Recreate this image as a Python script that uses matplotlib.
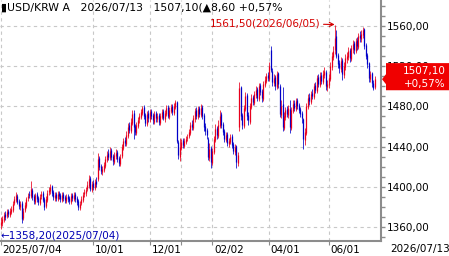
import matplotlib.pyplot as plt
import matplotlib.transforms as mtransforms
from matplotlib.patches import Polygon
from matplotlib.ticker import MultipleLocator

# daily USD/KRW candles, 2025/07/04 .. 2026/07/13
opens = [1362, 1364, 1367, 1373, 1371, 1376, 1372, 1375, 1377, 1384,
         1387, 1391, 1386, 1380, 1384, 1369, 1377, 1381, 1389, 1393,
         1391, 1397, 1391, 1385, 1393, 1389, 1384, 1391, 1394, 1388,
         1381, 1387, 1395, 1396, 1401, 1395, 1389, 1393, 1388, 1394,
         1392, 1387, 1393, 1390, 1386, 1391, 1389, 1385, 1392, 1388,
         1393, 1389, 1386, 1379, 1384, 1387, 1393, 1394, 1398, 1401,
         1409, 1397, 1404, 1399, 1406, 1408, 1429, 1421, 1415, 1417,
         1421, 1427, 1434, 1429, 1437, 1431, 1425, 1431, 1435, 1429,
         1423, 1431, 1439, 1447, 1443, 1451, 1462, 1456, 1464, 1473,
         1461, 1454, 1461, 1467, 1469, 1473, 1479, 1471, 1463, 1473,
         1467, 1475, 1471, 1465, 1473, 1467, 1471, 1464, 1469, 1475,
         1467, 1472, 1479, 1469, 1475, 1480, 1473, 1479, 1484, 1445,
         1430, 1439, 1447, 1441, 1445, 1449, 1451, 1454, 1463, 1459,
         1467, 1476, 1469, 1478, 1471, 1479, 1471, 1461, 1457, 1448,
         1429, 1439, 1424, 1435, 1447, 1459, 1451, 1461, 1472, 1463,
         1456, 1447, 1453, 1443, 1445, 1451, 1443, 1435, 1441, 1424,
         1460, 1499, 1471, 1461, 1477, 1491, 1471, 1465, 1479, 1489,
         1483, 1491, 1497, 1487, 1501, 1495, 1487, 1501, 1505, 1511,
         1507, 1536, 1515, 1503, 1509, 1499, 1513, 1500, 1471, 1482,
         1459, 1469, 1477, 1471, 1477, 1459, 1475, 1483, 1477, 1486,
         1481, 1477, 1473, 1467, 1447, 1454, 1479, 1489, 1484, 1493,
         1489, 1501, 1495, 1509, 1501, 1511, 1504, 1511, 1514, 1499,
         1501, 1507, 1519, 1529, 1536, 1550, 1531, 1523, 1517, 1526,
         1511, 1519, 1527, 1529, 1536, 1527, 1537, 1543, 1535, 1546,
         1539, 1551, 1547, 1551, 1557, 1541, 1531, 1523, 1507, 1513,
         1503, 1499]
closes = [1365, 1368, 1372, 1370, 1375, 1373, 1376, 1378, 1383, 1388,
          1392, 1385, 1381, 1383, 1368, 1376, 1382, 1388, 1391, 1392,
          1398, 1390, 1386, 1392, 1388, 1385, 1390, 1393, 1387, 1380,
          1388, 1394, 1397, 1400, 1394, 1390, 1392, 1389, 1393, 1391,
          1388, 1392, 1389, 1387, 1390, 1388, 1386, 1391, 1389, 1392,
          1388, 1385, 1380, 1383, 1388, 1392, 1395, 1397, 1402, 1408,
          1398, 1403, 1400, 1405, 1403, 1428, 1420, 1416, 1418, 1422,
          1428, 1432, 1430, 1436, 1430, 1426, 1432, 1434, 1428, 1424,
          1430, 1440, 1446, 1444, 1452, 1460, 1457, 1465, 1472, 1460,
          1455, 1462, 1466, 1470, 1474, 1478, 1470, 1464, 1472, 1468,
          1474, 1470, 1466, 1472, 1468, 1470, 1465, 1470, 1474, 1468,
          1473, 1478, 1470, 1476, 1479, 1474, 1480, 1484, 1446, 1432,
          1440, 1445, 1442, 1446, 1448, 1450, 1455, 1462, 1460, 1468,
          1475, 1470, 1477, 1472, 1478, 1470, 1460, 1456, 1452, 1430,
          1438, 1425, 1436, 1448, 1458, 1452, 1462, 1470, 1462, 1455,
          1448, 1452, 1444, 1446, 1450, 1442, 1436, 1440, 1425, 1432,
          1498, 1470, 1462, 1478, 1490, 1470, 1466, 1480, 1488, 1484,
          1492, 1496, 1488, 1500, 1494, 1488, 1502, 1506, 1510, 1508,
          1520, 1516, 1504, 1508, 1500, 1512, 1502, 1472, 1480, 1460,
          1470, 1476, 1472, 1478, 1460, 1476, 1482, 1478, 1485, 1480,
          1476, 1472, 1468, 1448, 1455, 1480, 1488, 1485, 1492, 1490,
          1500, 1496, 1508, 1502, 1510, 1505, 1512, 1515, 1500, 1502,
          1508, 1520, 1530, 1535, 1548, 1530, 1522, 1518, 1525, 1512,
          1520, 1528, 1530, 1535, 1528, 1538, 1542, 1536, 1545, 1540,
          1550, 1548, 1552, 1556, 1540, 1530, 1522, 1508, 1512, 1503,
          1498.5, 1507.1]
highs = [1370, 1371, 1375, 1376, 1378, 1378, 1379, 1381, 1386, 1391,
         1395, 1393, 1388, 1386, 1386, 1379, 1385, 1390, 1394, 1396,
         1406, 1399, 1393, 1394, 1395, 1391, 1393, 1396, 1396, 1390,
         1391, 1397, 1400, 1403, 1402, 1397, 1395, 1395, 1396, 1396,
         1394, 1395, 1395, 1392, 1393, 1393, 1391, 1394, 1394, 1395,
         1395, 1391, 1388, 1386, 1391, 1395, 1398, 1400, 1406, 1412,
         1411, 1406, 1407, 1408, 1410, 1434, 1431, 1423, 1421, 1425,
         1431, 1436, 1438, 1440, 1439, 1433, 1435, 1438, 1437, 1431,
         1433, 1443, 1449, 1450, 1456, 1464, 1465, 1468, 1476, 1476,
         1463, 1465, 1469, 1473, 1477, 1480, 1481, 1473, 1475, 1476,
         1477, 1477, 1473, 1475, 1475, 1473, 1473, 1473, 1477, 1477,
         1476, 1481, 1481, 1479, 1482, 1482, 1483, 1486, 1485, 1447,
         1449, 1448, 1449, 1449, 1451, 1453, 1458, 1465, 1466, 1471,
         1478, 1479, 1480, 1480, 1482, 1481, 1473, 1464, 1459, 1450,
         1444, 1441, 1439, 1451, 1463, 1461, 1466, 1476, 1474, 1465,
         1458, 1455, 1455, 1449, 1453, 1453, 1445, 1443, 1442, 1435,
         1504, 1500, 1473, 1481, 1494, 1493, 1474, 1483, 1492, 1491,
         1495, 1500, 1499, 1503, 1503, 1497, 1505, 1510, 1513, 1514,
         1524, 1540, 1518, 1512, 1511, 1515, 1514, 1502, 1486, 1499,
         1474, 1479, 1480, 1481, 1486, 1479, 1486, 1486, 1488, 1488,
         1483, 1479, 1475, 1468, 1459, 1483, 1492, 1493, 1495, 1497,
         1503, 1504, 1511, 1512, 1514, 1514, 1516, 1519, 1516, 1506,
         1512, 1524, 1534, 1540, 1561.5, 1556, 1533, 1526, 1529, 1528,
         1524, 1532, 1534, 1539, 1538, 1541, 1546, 1545, 1548, 1549,
         1553, 1555, 1556, 1559, 1558, 1543, 1533, 1524, 1515, 1514,
         1506, 1510]
lows = [1358.2, 1361, 1365, 1367, 1369, 1370, 1370, 1373, 1375, 1382,
        1385, 1383, 1378, 1377, 1364, 1367, 1375, 1379, 1386, 1389,
        1389, 1387, 1383, 1383, 1385, 1382, 1382, 1388, 1385, 1377,
        1379, 1385, 1392, 1393, 1391, 1387, 1386, 1386, 1386, 1388,
        1385, 1385, 1386, 1384, 1384, 1385, 1383, 1383, 1386, 1386,
        1385, 1382, 1377, 1377, 1382, 1385, 1390, 1391, 1396, 1399,
        1396, 1395, 1397, 1397, 1400, 1406, 1417, 1413, 1412, 1415,
        1419, 1425, 1427, 1427, 1427, 1422, 1423, 1428, 1425, 1421,
        1421, 1429, 1437, 1441, 1441, 1449, 1454, 1454, 1462, 1448,
        1452, 1452, 1459, 1464, 1467, 1471, 1467, 1461, 1461, 1465,
        1465, 1467, 1463, 1463, 1465, 1465, 1462, 1462, 1467, 1466,
        1465, 1470, 1468, 1467, 1473, 1471, 1471, 1477, 1444, 1428,
        1426, 1437, 1439, 1439, 1443, 1446, 1449, 1452, 1457, 1457,
        1465, 1467, 1467, 1469, 1469, 1467, 1456, 1452, 1448, 1427,
        1426, 1419, 1422, 1433, 1445, 1448, 1449, 1459, 1459, 1452,
        1445, 1445, 1441, 1440, 1443, 1439, 1433, 1432, 1419, 1421,
        1456, 1466, 1458, 1459, 1475, 1466, 1462, 1463, 1477, 1481,
        1481, 1488, 1485, 1485, 1491, 1484, 1485, 1499, 1503, 1505,
        1505, 1514, 1500, 1500, 1496, 1497, 1498, 1469, 1468, 1456,
        1457, 1466, 1469, 1468, 1454, 1457, 1473, 1475, 1475, 1477,
        1473, 1469, 1464, 1438, 1442, 1452, 1477, 1481, 1482, 1487,
        1487, 1493, 1493, 1499, 1499, 1502, 1502, 1508, 1496, 1495,
        1498, 1505, 1516, 1526, 1532, 1528, 1518, 1513, 1514, 1506,
        1508, 1516, 1523, 1526, 1524, 1525, 1533, 1532, 1533, 1536,
        1537, 1544, 1544, 1548, 1537, 1527, 1518, 1504, 1504, 1499,
        1496, 1497]

tick_idx = [0, 62, 100, 121, 142, 180, 220]
tick_labels = ['2025/07/04', '10/01', '12/01', '', '02/02', '04/01', '06/01']

up = '#e8001c'
down = '#0000c8'
grid = '#c8c8c8'
axis = '#8c8c8c'

fig = plt.figure(figsize=(4.49, 2.56), dpi=100)
ax = fig.add_axes([0, 15 / 256, 381 / 449, 241 / 256])

n = len(closes)
xs = list(range(n))
cols = [up if c >= o else down for o, c in zip(opens, closes)]
ax.vlines(xs, lows, highs, colors=cols, lw=0.55, zorder=3)
ax.vlines(xs, [min(o, c) for o, c in zip(opens, closes)],
          [max(o, c) for o, c in zip(opens, closes)], colors=cols, lw=0.9, zorder=3)

ax.set_xlim(-0.6, 381 / 1.49 - 0.6)
ax.set_ylim(1346.1, 1585.9)

for s in ['left', 'top']:
    ax.spines[s].set_visible(False)
for s in ['right', 'bottom']:
    ax.spines[s].set_color(axis)
    ax.spines[s].set_linewidth(1.5)

ax.yaxis.tick_right()
ax.set_yticks(range(1360, 1561, 40))
ax.set_yticklabels([f'{v:.2f}'.replace('.', ',') for v in range(1360, 1561, 40)])
ax.yaxis.set_minor_locator(MultipleLocator(10))
ax.tick_params(axis='y', which='both', direction='out', length=3, width=1,
               color=axis, labelsize=7.5, pad=1)
ax.set_xticks(tick_idx)
ax.set_xticklabels(tick_labels, ha='left')
ax.tick_params(axis='x', direction='out', length=3, width=0.8, color=axis,
               labelsize=7.5, pad=0)
for t in ax.get_xticklabels():
    t.set_transform(t.get_transform() + mtransforms.ScaledTranslation(1.5 / 100, 0, fig.dpi_scale_trans))

ax.grid(True, which='major', color=grid, ls=(0, (3, 3)), lw=0.8)

fig.text(390 / 449, 7 / 256, '2026/07/13', fontsize=7.5, va='center', ha='left')

fig.text(1 / 449, 1 - 7 / 256, '\u25aeUSD/KRW A   2026/07/13   1507,10(\u25b28,60 +0,57%',
         fontsize=7.8, va='center', ha='left')

hi_i = highs.index(max(highs))
ax.annotate('1561,50(2026/06/05)', xy=(hi_i, max(highs)), xytext=(-10, 1),
            textcoords='offset points', ha='right', va='center', color='#d40000',
            fontsize=7.5, arrowprops=dict(arrowstyle='->', color='#d40000', lw=0.8,
                                          shrinkA=0, shrinkB=0))
lo_i = lows.index(min(lows))
ax.annotate('\u21901358,20(2025/07/04)', xy=(lo_i, min(lows)), xytext=(0, -5),
            textcoords='offset points', ha='left', va='center', color='#0000b4',
            fontsize=7.5)

# last price box on the right
tr = mtransforms.blended_transform_factory(fig.transFigure, ax.transData)
last = closes[-1]
x0, x1, xt = 386 / 449, 1.0, 382 / 449
box = Polygon([(xt, last), (x0, last + 5), (x0, last + 16), (x1, last + 16),
               (x1, last - 11), (x0, last - 11), (x0, last - 5)],
              closed=True, transform=tr, facecolor='#f00000', edgecolor='none',
              clip_on=False, zorder=10)
fig.patches.append(box)
chg = (last - closes[-2]) / closes[-2] * 100
fig.text(446 / 449, 1 - 71 / 256, f'{last:.2f}'.replace('.', ','), color='white',
         fontsize=7.5, ha='right', va='center', zorder=11)
fig.text(446 / 449, 1 - 84 / 256, f'+{chg:.2f}%'.replace('.', ','), color='white',
         fontsize=7.5, ha='right', va='center', zorder=11)

fig.savefig('out.png', dpi=100)
